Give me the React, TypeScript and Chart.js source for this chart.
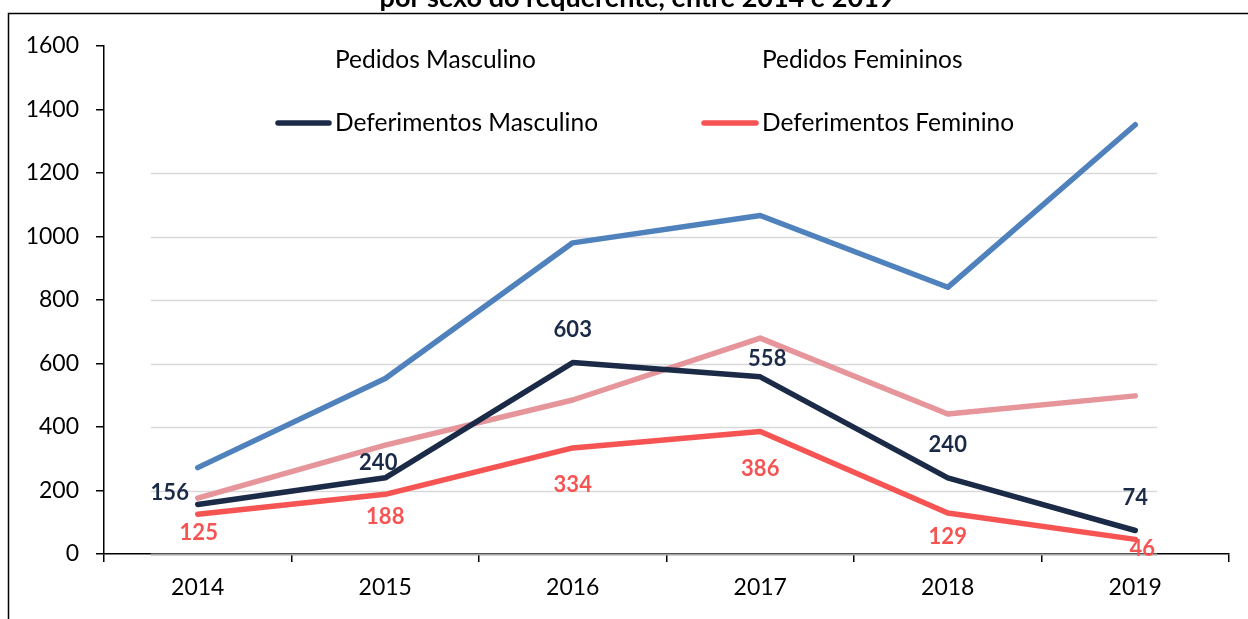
import React, { useEffect, useRef } from "react";
import { Chart, registerables } from "chart.js";

Chart.register(...registerables);

const years = ["2014", "2015", "2016", "2017", "2018", "2019"];
const pedidosMasculino = [272, 553, 980, 1066, 840, 1352];
const pedidosFeminino = [176, 343, 485, 680, 441, 498];
const deferimentosMasculino = [156, 240, 603, 558, 240, 74];
const deferimentosFeminino = [125, 188, 334, 386, 129, 46];
const yTicks = [0, 200, 400, 600, 800, 1000, 1200, 1400, 1600];
const gridValues = [0, 200, 400, 600, 800, 1000, 1200];
const titleText = "por sexo do requerente, entre 2014 e 2019";

// label placement offsets (dx, dy) relative to each point
const navyLabelOffsets = [[-28, -12], [-7, -15], [0, -33], [7, -18], [0, -33], [0, -33]];
const redLabelOffsets = [[1, 19], [0, 23], [0, 37], [0, 37], [0, 24], [7, 10]];

const FONT = "Lato, 'Open Sans', 'Liberation Sans', sans-serif";
const C_BLUE = "#4f81bd";
const C_PINK = "#e6959a";
const C_NAVY = "#1b2a47";
const C_RED = "#f65353";

const decorPlugin = {
  id: "decor",
  beforeDatasetsDraw(chart: any) {
    const ctx = chart.ctx;
    const x = chart.scales.x;
    const y = chart.scales.y;
    const step = x.getPixelForValue(1) - x.getPixelForValue(0);
    const left = x.getPixelForValue(0) - 0.25 * step;
    const right = x.getPixelForValue(years.length - 1) + 0.117 * step;
    ctx.save();
    gridValues.forEach((v) => {
      const py = Math.round(y.getPixelForValue(v)) + 0.5;
      ctx.strokeStyle = v === 0 ? "#a3a3a3" : "#d9d9d9";
      ctx.lineWidth = v === 0 ? 2 : 1.5;
      ctx.beginPath();
      ctx.moveTo(left, py);
      ctx.lineTo(right, py);
      ctx.stroke();
    });
    ctx.restore();
  },
  afterDatasetsDraw(chart: any) {
    const ctx = chart.ctx;
    ctx.save();
    ctx.font = `bold 22px ${FONT}`;
    ctx.textAlign = "center";
    ctx.textBaseline = "middle";
    const drawLabels = (dsIndex: number, values: number[], offsets: number[][], color: string) => {
      const meta = chart.getDatasetMeta(dsIndex);
      ctx.fillStyle = color;
      meta.data.forEach((pt: any, i: number) => {
        ctx.fillText(String(values[i]), pt.x + offsets[i][0], pt.y + offsets[i][1]);
      });
    };
    drawLabels(2, deferimentosMasculino, navyLabelOffsets, C_NAVY);
    drawLabels(3, deferimentosFeminino, redLabelOffsets, C_RED);
    ctx.restore();
  },
  afterDraw(chart: any) {
    const ctx = chart.ctx;
    ctx.save();
    // frame
    ctx.strokeStyle = "#000";
    ctx.lineWidth = 1.5;
    ctx.beginPath();
    ctx.moveTo(8.5, chart.height);
    ctx.lineTo(8.5, 13.5);
    ctx.lineTo(chart.width, 13.5);
    ctx.stroke();
    // title (cut at top)
    ctx.fillStyle = "#000";
    ctx.font = `bold 27px ${FONT}`;
    ctx.textAlign = "center";
    ctx.textBaseline = "alphabetic";
    ctx.fillText(titleText, 637, 7);
    // legend
    ctx.font = `24.5px ${FONT}`;
    ctx.textAlign = "left";
    ctx.textBaseline = "middle";
    ctx.fillStyle = "#000";
    ctx.fillText("Pedidos Masculino", 335, 60);
    ctx.fillText("Pedidos Femininos", 762, 60);
    ctx.fillText("Deferimentos Masculino", 335, 123);
    ctx.fillText("Deferimentos Feminino", 762, 123);
    ctx.lineCap = "round";
    ctx.lineWidth = 5.5;
    ctx.strokeStyle = C_NAVY;
    ctx.beginPath();
    ctx.moveTo(278, 123);
    ctx.lineTo(329, 123);
    ctx.stroke();
    ctx.strokeStyle = C_RED;
    ctx.beginPath();
    ctx.moveTo(704, 123);
    ctx.lineTo(756, 123);
    ctx.stroke();
    ctx.restore();
  },
};

export default function App() {
  const ref = useRef<HTMLCanvasElement | null>(null);
  useEffect(() => {
    if (!ref.current) return;
    const lineDs = (label: string, data: number[], color: string, order: number) => ({
      label,
      data,
      borderColor: color,
      backgroundColor: color,
      borderWidth: 5.5,
      borderCapStyle: "round" as const,
      borderJoinStyle: "round" as const,
      pointRadius: 0,
      tension: 0,
      order,
    });
    const chart = new Chart(ref.current, {
      type: "line",
      data: {
        labels: years,
        datasets: [
          lineDs("Pedidos Masculino", pedidosMasculino, C_BLUE, 3),
          lineDs("Pedidos Femininos", pedidosFeminino, C_PINK, 2),
          lineDs("Deferimentos Masculino", deferimentosMasculino, C_NAVY, 1),
          lineDs("Deferimentos Feminino", deferimentosFeminino, C_RED, 0),
        ],
      },
      options: {
        responsive: false,
        animation: false,
        layout: { padding: { left: 0, right: 19, top: 46, bottom: 0 } },
        plugins: { legend: { display: false }, tooltip: { enabled: false }, title: { display: false } },
        scales: {
          x: {
            type: "category",
            offset: true,
            grid: { display: true, drawOnChartArea: false, color: "#000", tickLength: 8, offset: true, lineWidth: 1.5 },
            border: { display: true, color: "#000", width: 1.5 },
            ticks: { color: "#000", font: { family: FONT, size: 23 }, padding: 12, maxRotation: 0 },
            afterFit: (s: any) => { s.height = 65; },
          },
          y: {
            min: 0,
            max: 1600,
            afterBuildTicks: (s: any) => { s.ticks = yTicks.map((v) => ({ value: v })); },
            grid: { display: true, drawOnChartArea: false, color: "#000", tickLength: 8, lineWidth: 1.5 },
            border: { display: true, color: "#000", width: 1.5 },
            ticks: { color: "#000", font: { family: FONT, size: 23 }, padding: 17, callback: (v: any) => String(v) },
            afterFit: (s: any) => { s.width = 104; },
          },
        },
      },
      plugins: [decorPlugin],
    });
    return () => chart.destroy();
  }, []);
  return (
    <div style={{ position: "fixed", left: 0, top: 0, width: 1248, height: 619, background: "#fff" }}>
      <canvas ref={ref} width={1248} height={619} style={{ display: "block", width: 1248, height: 619 }} />
    </div>
  );
}
